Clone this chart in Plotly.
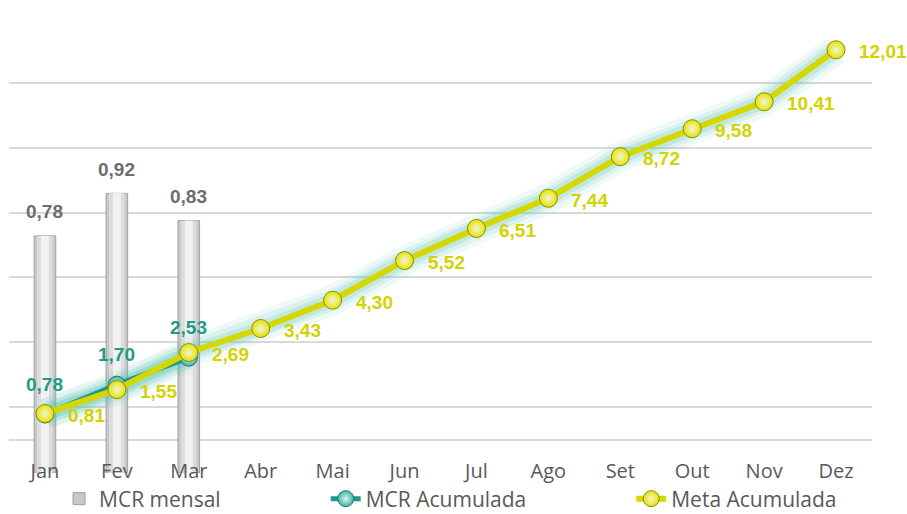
import plotly.graph_objects as go

months = ["Jan", "Fev", "Mar", "Abr", "Mai", "Jun", "Jul", "Ago", "Set", "Out", "Nov", "Dez"]
mcr_mensal = [0.78, 0.92, 0.83]
mcr_acum = [0.78, 1.70, 2.53]
meta_acum = [0.81, 1.55, 2.69, 3.43, 4.30, 5.52, 6.51, 7.44, 8.72, 9.58, 10.41, 12.01]

def fmt(v):
    return f"{v:.2f}".replace(".", ",")

LABEL_FONT = "Liberation Sans, Arial, sans-serif"
TEXT_FONT = "Open Sans, sans-serif"
YEL = "#d5d800"
YEL_TXT = "#d3d300"
TEAL = "#21998a"
TEAL_TXT = "#1f9a86"
GRID = "#d9d9d9"

fig = go.Figure()

# Bars (MCR mensal) on primary axis, layered for a cylinder-like shading
bm = months[:len(mcr_mensal)]
fig.add_trace(go.Bar(x=bm, y=mcr_mensal, width=0.30, name="MCR mensal",
                     marker=dict(color="#c8c8c8", line=dict(color="#a0a0a0", width=1)),
                     yaxis="y", legendgroup="b", showlegend=True, legend="legend"))
fig.add_trace(go.Bar(x=bm, y=mcr_mensal, width=0.22, marker=dict(color="#dcdcdc", line=dict(width=0)),
                     yaxis="y", legendgroup="b", showlegend=False, hoverinfo="skip"))
fig.add_trace(go.Bar(x=bm, y=mcr_mensal, width=0.11, marker=dict(color="#f2f2f2", line=dict(width=0)),
                     yaxis="y", legendgroup="b", showlegend=False, hoverinfo="skip"))

# Glow behind lines
for w, op in [(30, 0.09), (21, 0.13), (14, 0.20)]:
    fig.add_trace(go.Scatter(x=months, y=meta_acum, mode="lines", yaxis="y2",
                             line=dict(color="#5cc4b4", width=w), opacity=op,
                             showlegend=False, hoverinfo="skip"))
    fig.add_trace(go.Scatter(x=months[:len(mcr_acum)], y=mcr_acum, mode="lines", yaxis="y2",
                             line=dict(color="#5cc4b4", width=w), opacity=op,
                             showlegend=False, hoverinfo="skip"))

# MCR Acumulada
fig.add_trace(go.Scatter(x=months[:len(mcr_acum)], y=mcr_acum, mode="lines+markers", yaxis="y2",
                         name="MCR Acumulada", legend="legend2",
                         line=dict(color=TEAL, width=5),
                         marker=dict(size=17, color="#3fb3a6",
                                     gradient=dict(type="radial", color="#d8f4f2"),
                                     line=dict(color="#1a7a6e", width=1))))
# Meta Acumulada
fig.add_trace(go.Scatter(x=months, y=meta_acum, mode="lines+markers", yaxis="y2",
                         name="Meta Acumulada", legend="legend3",
                         line=dict(color=YEL, width=6),
                         marker=dict(size=18, color="#e2e400",
                                     gradient=dict(type="radial", color="#f4f4d8"),
                                     line=dict(color="#8e8c00", width=1))))

ann = []
for m, v in zip(bm, mcr_mensal):
    ann.append(dict(x=m, y=v, xref="x", yref="y", text=fmt(v), showarrow=False,
                    yshift=24, font=dict(family=LABEL_FONT, size=19, color="#6d6d6d", weight="bold")))
for m, v in zip(months, mcr_acum):
    ann.append(dict(x=m, y=v, xref="x", yref="y2", text=fmt(v), showarrow=False,
                    yshift=30, font=dict(family=LABEL_FONT, size=19, color=TEAL_TXT, weight="bold")))
for m, v in zip(months, meta_acum):
    ann.append(dict(x=m, y=v, xref="x", yref="y2", text=fmt(v), showarrow=False,
                    xanchor="left", xshift=21, yshift=-2,
                    font=dict(family=LABEL_FONT, size=19, color=YEL_TXT, weight="bold")))

legend_common = dict(orientation="h", y=-0.057, yanchor="middle", xanchor="left",
                     bgcolor="rgba(0,0,0,0)",
                     font=dict(family=TEXT_FONT, size=21, color="#595959"))

fig.update_layout(
    width=907, height=514,
    margin=dict(l=9, r=35, t=17, b=41, autoexpand=False),
    paper_bgcolor="white", plot_bgcolor="white",
    barmode="overlay",
    showlegend=True,
    annotations=ann,
    xaxis=dict(categoryorder="array", categoryarray=months, range=[-0.5, 11.5],
               showgrid=False, showline=False, zeroline=False, ticks="",
               anchor="free", position=0.035, automargin=False,
               tickfont=dict(family=TEXT_FONT, size=20, color="#595959")),
    yaxis=dict(range=[0, 1.5], visible=False, showgrid=False, fixedrange=True),
    yaxis2=dict(range=[-1.02, 13.02], overlaying="y", side="right",
                tick0=-1, dtick=2, showgrid=True, gridcolor=GRID, gridwidth=1.5,
                zeroline=True, zerolinecolor=GRID, zerolinewidth=1.5,
                showticklabels=False, ticks="", showline=False, automargin=False),
    legend=dict(x=0.058, **legend_common),
    legend2=dict(x=0.367, **legend_common),
    legend3=dict(x=0.721, **legend_common),
)

fig.write_html("out.html", config={"displayModeBar": False},
               post_script="document.body.style.margin='0';document.body.style.overflow='hidden';")
